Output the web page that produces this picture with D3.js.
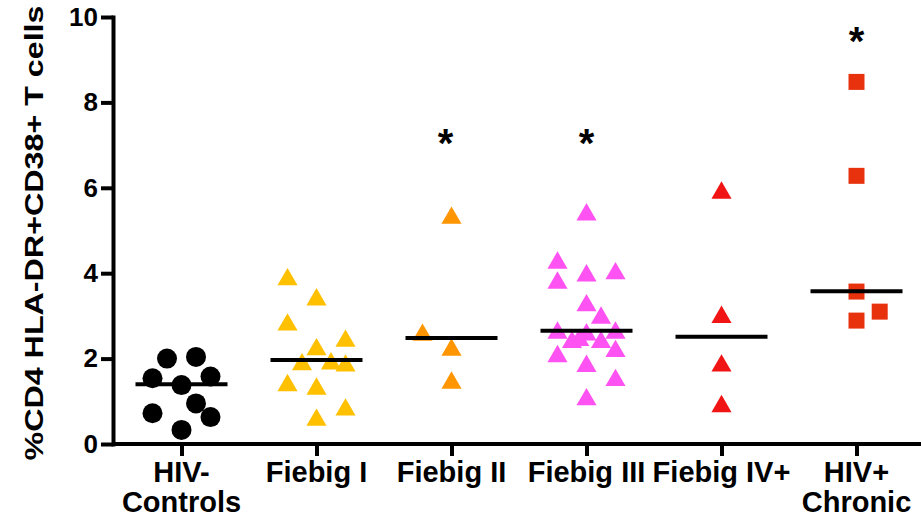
<!DOCTYPE html>
<html>
<head>
<meta charset="utf-8">
<script src="https://cdn.jsdelivr.net/npm/d3@7"></script>
<style>
  body { margin: 0; background: #fff; }
  svg { display: block; font-family: "Liberation Sans", Arial, sans-serif; font-weight: bold; }
</style>
</head>
<body>
<svg id="chart"></svg>
<script>
// Groups and their axis labels (one entry per line)
const categories = ["HIV- Controls", "Fiebig I", "Fiebig II", "Fiebig III", "Fiebig IV+", "HIV+ Chronic"];
const categoryLines = [["HIV-", "Controls"], ["Fiebig I"], ["Fiebig II"], ["Fiebig III"], ["Fiebig IV+"], ["HIV+", "Chronic"]];

// % CD4 HLA-DR+CD38+ values, with the scatter column of each point
const hivNegValues = [2.00, 2.04, 1.54, 1.38, 1.58, 0.95, 0.72, 0.63, 0.33];
const hivNegSlots  = [-1, 1, -2, 0, 2, 1, -2, 2, 0];
const fiebig1Values = [3.92, 3.45, 2.86, 2.48, 2.28, 1.93, 1.95, 1.90, 1.44, 1.36, 0.87, 0.63];
const fiebig1Slots  = [-2, 0, -2, 2, 0, -1, 1, 2, -2, 0, 2, 0];
const fiebig2Values = [5.36, 2.62, 2.27, 1.50];
const fiebig2Slots  = [0, -2, 0, 0];
const fiebig3Values = [5.44, 4.31, 4.01, 4.06, 3.84, 3.31, 3.02, 2.67, 2.63, 2.67, 2.45, 2.50, 2.45, 2.24, 2.12, 1.89, 1.56, 1.11];
const fiebig3Slots  = [0, -2, 0, 2, -2, 0, 1, -2, 0, 2, -1, -0.5, 1, 2, -2, 0, 2, 0];
const fiebig4Values = [5.95, 3.04, 1.90, 0.95];
const fiebig4Slots  = [0, 0, 0, 0];
const chronicValues = [8.48, 6.28, 3.57, 3.10, 2.89];
const chronicSlots  = [0, 0, 0, 1.6, 0];

const medians = [1.40, 1.97, 2.48, 2.65, 2.51, 3.58];

// significance stars
const starCategories = ["Fiebig II", "Fiebig III", "HIV+ Chronic"];
const starValues = [7.24, 7.24, 9.63];

const yTicks = [0, 2, 4, 6, 8, 10];

const width = 921;
const height = 518;

const svg = d3.select("#chart")
    .attr("width", width)
    .attr("height", height);

const axisX = 113;
const y = d3.scaleLinear().domain([0, 10]).range([444, 17]);
const x = d3.scalePoint().domain(categories).range([181.5, 856.5]);
const slotStep = 14.5;

// triangle centred on its bounding box (as in the original plot)
const triangleMid = {
    draw(context, size) {
        const s = Math.sqrt(size * 4 / Math.sqrt(3));
        const h = s * Math.sqrt(3) / 2;
        context.moveTo(0, -h / 2);
        context.lineTo(s / 2, h / 2);
        context.lineTo(-s / 2, h / 2);
        context.closePath();
    }
};

const groups = [
    { values: hivNegValues, slots: hivNegSlots, color: "#000000", shape: d3.symbolCircle, size: 314 },
    { values: fiebig1Values, slots: fiebig1Slots, color: "#FFC000", shape: triangleMid, size: 175 },
    { values: fiebig2Values, slots: fiebig2Slots, color: "#FF9500", shape: triangleMid, size: 175 },
    { values: fiebig3Values, slots: fiebig3Slots, color: "#FF52F2", shape: triangleMid, size: 175 },
    { values: fiebig4Values, slots: fiebig4Slots, color: "#F01414", shape: triangleMid, size: 175 },
    { values: chronicValues, slots: chronicSlots, color: "#E8320E", shape: d3.symbolSquare, size: 256 }
];

// y axis
const yAxis = svg.append("g")
    .attr("transform", `translate(${axisX},0)`)
    .call(d3.axisLeft(y).tickValues(yTicks).tickSize(12).tickSizeOuter(0).tickPadding(3));
yAxis.select(".domain").attr("stroke-width", 4).attr("stroke-linecap", "square");
yAxis.selectAll(".tick line").attr("stroke-width", 4);
yAxis.selectAll(".tick text")
    .attr("font-size", 26)
    .attr("font-family", "Liberation Sans, Arial, sans-serif")
    .attr("font-weight", "bold")
    .attr("fill", "#000");

// x axis
const xAxis = svg.append("g")
    .attr("transform", `translate(0,${y(0)})`)
    .call(d3.axisBottom(x).tickSize(12).tickSizeOuter(0).tickFormat(""));
xAxis.select(".domain").attr("d", `M${axisX},0H${width}`).attr("stroke-width", 4);
xAxis.selectAll(".tick line").attr("stroke-width", 4);

// category labels, possibly two lines
svg.append("g").selectAll("text")
    .data(categories)
    .join("text")
    .attr("x", d => x(d))
    .attr("y", 482)
    .attr("text-anchor", "middle")
    .attr("font-size", 29)
    .selectAll("tspan")
    .data((d, i) => categoryLines[i])
    .join("tspan")
    .attr("x", function() { return x(this.parentNode.__data__); })
    .attr("dy", (d, i) => i === 0 ? 0 : 30)
    .text(d => d);

// y title
svg.append("text")
    .attr("transform", `translate(43,233) rotate(-90)`)
    .attr("text-anchor", "middle")
    .attr("font-size", 26)
    .attr("textLength", 455)
    .attr("lengthAdjust", "spacingAndGlyphs")
    .text("%CD4 HLA-DR+CD38+ T cells");

// points
groups.forEach((g, gi) => {
    const cx = x(categories[gi]);
    svg.append("g").selectAll("path")
        .data(g.values)
        .join("path")
        .attr("d", d3.symbol().type(g.shape).size(g.size))
        .attr("transform", (d, i) => `translate(${cx + g.slots[i] * slotStep},${y(d)})`)
        .attr("fill", g.color);
});

// median lines
svg.append("g").selectAll("line")
    .data(medians)
    .join("line")
    .attr("x1", (d, i) => x(categories[i]) - 46)
    .attr("x2", (d, i) => x(categories[i]) + 46)
    .attr("y1", d => y(d))
    .attr("y2", d => y(d))
    .attr("stroke", "#000")
    .attr("stroke-width", 4);

// stars
svg.append("g").selectAll("text")
    .data(starValues)
    .join("text")
    .attr("x", (d, i) => x(starCategories[i]) + (i === 0 ? -6 : 0))
    .attr("y", d => y(d))
    .attr("dy", "0.55em")
    .attr("text-anchor", "middle")
    .attr("font-size", 40)
    .text("*");
</script>
</body>
</html>
